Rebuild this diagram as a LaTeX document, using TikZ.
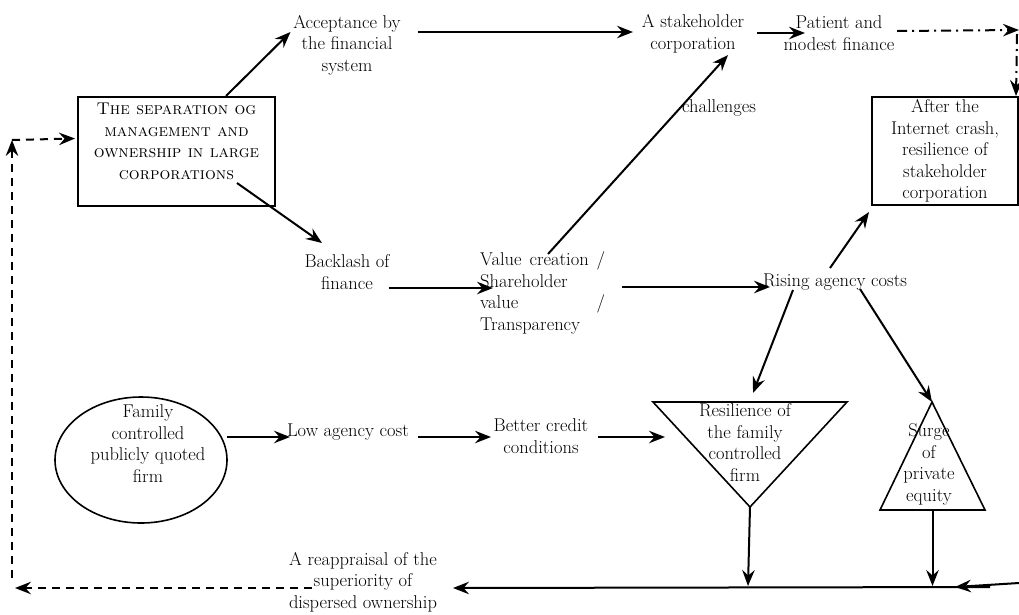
\documentclass[tikz,border=0pt]{standalone}
\usetikzlibrary{arrows.meta,shapes.geometric,calc}
\begin{document}
\begin{tikzpicture}[x=1pt,y=-1pt,
  txt/.style={align=center, inner sep=0pt, font=\fontsize{18.5}{21.5}\selectfont},
  sctxt/.style={align=center, inner sep=0pt, font=\fontsize{17}{21.5}\selectfont\scshape},
  conn/.style={line width=2pt, -{Stealth[length=16pt,width=12.5pt,inset=5.5pt]}},
  frame/.style={draw, line width=2pt},
  dashconn/.style={conn, dash pattern=on 8pt off 6pt},
  dotdashconn/.style={conn, dash pattern=on 10pt off 5pt on 2pt off 5pt},
  shapeline/.style={line width=1.6pt, line join=miter}
]
\fill[white] (0,0) rectangle (1019,614);
\useasboundingbox (0,0) rectangle (1019,614);

% boxes and labels
\node[frame, minimum width=197pt, minimum height=109pt, inner sep=0pt] (sep) at (176.5,151.5) {};
\node[sctxt, anchor=north] (septxt) at (176.5,103) {The separation og\\management and\\ownership in large\\corporations};
\node[txt] (acc) at (347,45) {Acceptance by\\the financial\\system};
\node[txt] (stake) at (693,34) {A stakeholder\\corporation};
\node[txt] (pat) at (839,33) {Patient and\\modest finance};
\node[frame, txt, minimum width=146pt, minimum height=108pt] (after) at (945,151) {After the\\Internet crash,\\resilience of\\stakeholder\\corporation};
\node[txt] (back) at (347,272) {Backlash of\\finance};
\node[txt, anchor=west, align=left] (value) at (480,293) {\makebox[125pt][s]{Value creation /}\\Shareholder\\\makebox[125pt][s]{value /}\\Transparency};
\node[txt] (rising) at (835,282) {Rising agency costs};

\node[draw, ellipse, line width=1.6pt, minimum width=172pt, minimum height=126pt, inner sep=0pt] (fam) at (141,460) {};
\node[txt] (famtxt) at (148,443.5) {Family\\controlled\\publicly quoted\\firm};
\node[txt] (low) at (348,432) {Low agency cost};
\node[txt] (better) at (541,436) {Better credit\\conditions};

% inverted triangle
\coordinate (rtl) at (653,402);
\coordinate (rtr) at (847,402);
\coordinate (rtm) at (750,402);
\coordinate (rtip) at (750,507);
\draw[shapeline] (rtl) -- (rtr) -- (rtip) -- cycle;
\node[txt] (resil) at (745,442.5) {Resilience of\\the family\\controlled\\firm};

% upright triangle
\coordinate (stop) at (932,402);
\coordinate (sbl) at (880,510);
\coordinate (sbr) at (985,510);
\coordinate (sbm) at (932.5,510);
\draw[shapeline] (stop) -- (sbr) -- (sbl) -- cycle;
\node[txt] (surge) at (929,464.5) {Surge\\of\\private\\equity};

\node[txt] (reap) at (363,582) {A reappraisal of the\\superiority of\\dispersed ownership};

% free ends
\coordinate (rin) at (1019,583);
\coordinate (junc) at (990,587);
\coordinate (lend) at (15,588);
\coordinate (lbot) at (12,578);
\coordinate (ltop) at (12,140);

% connectors
\draw[conn] ($(sep.north)+(49.5,0)$) -- ($(acc.center)+(-56.5,-13)$);
\draw[conn] ($(acc.center)+(70.5,-13)$) -- ($(stake.center)+(-60,-2)$);
\draw[conn] ($(stake.center)+(64,-1)$) -- ($(pat.center)+(-34,0)$);
\draw[dotdashconn] ($(pat.center)+(58,-2)$) -- ($(after.north east)+(0,-66)$);
\draw[dotdashconn] ($(after.north east)+(-2,-62)$) -- ($(after.north east)+(-3,0)$);
\draw[conn] ($(sep.center)+(60.5,31.5)$) -- ($(back.center)+(-25,-29)$);
\draw[conn] ($(back.center)+(41.5,16)$) -- ($(value.west)+(13,-5)$);
\draw[conn] ($(value.west)+(68,-39)$) -- node[txt, pos=0.734, anchor=west, xshift=1pt] (chal) {challenges} ($(stake.center)+(35,21)$);
\draw[conn] ($(value.east)+(17,-6)$) -- ($(rising.center)+(-65,5)$);
\draw[conn] ($(rising.center)+(-5,-14)$) -- ($(after.south west)+(-2,6)$);
\draw[conn] ($(rising.center)+(-42,8)$) -- ($(rtm)+(3,-9)$);
\draw[conn] ($(rising.center)+(25,7)$) -- (stop);
\draw[conn] ($(fam.east)+(-1,-23)$) -- ($(low.center)+(-58,5)$);
\draw[conn] ($(low.center)+(70,5)$) -- ($(better.center)+(-50,1)$);
\draw[conn] ($(better.center)+(57,1)$) -- ($(rtl)+(12,35)$);
\draw[conn] (rtip) -- ($(rtip)+(-2,79)$);
\draw[conn] (sbm) -- ($(sbm)+(0,76)$);
\draw[conn] (rin) -- ($(junc)+(-35,0)$);
\draw[conn] (junc) -- ($(reap.center)+(90,6)$);
\draw[dashconn] ($(reap.center)+(-51,6)$) -- (lend);
\draw[dashconn] (lbot) -- (ltop);
\draw[dashconn] (ltop) -- ($(sep.west)+(-2,-13)$);
\end{tikzpicture}
\end{document}
